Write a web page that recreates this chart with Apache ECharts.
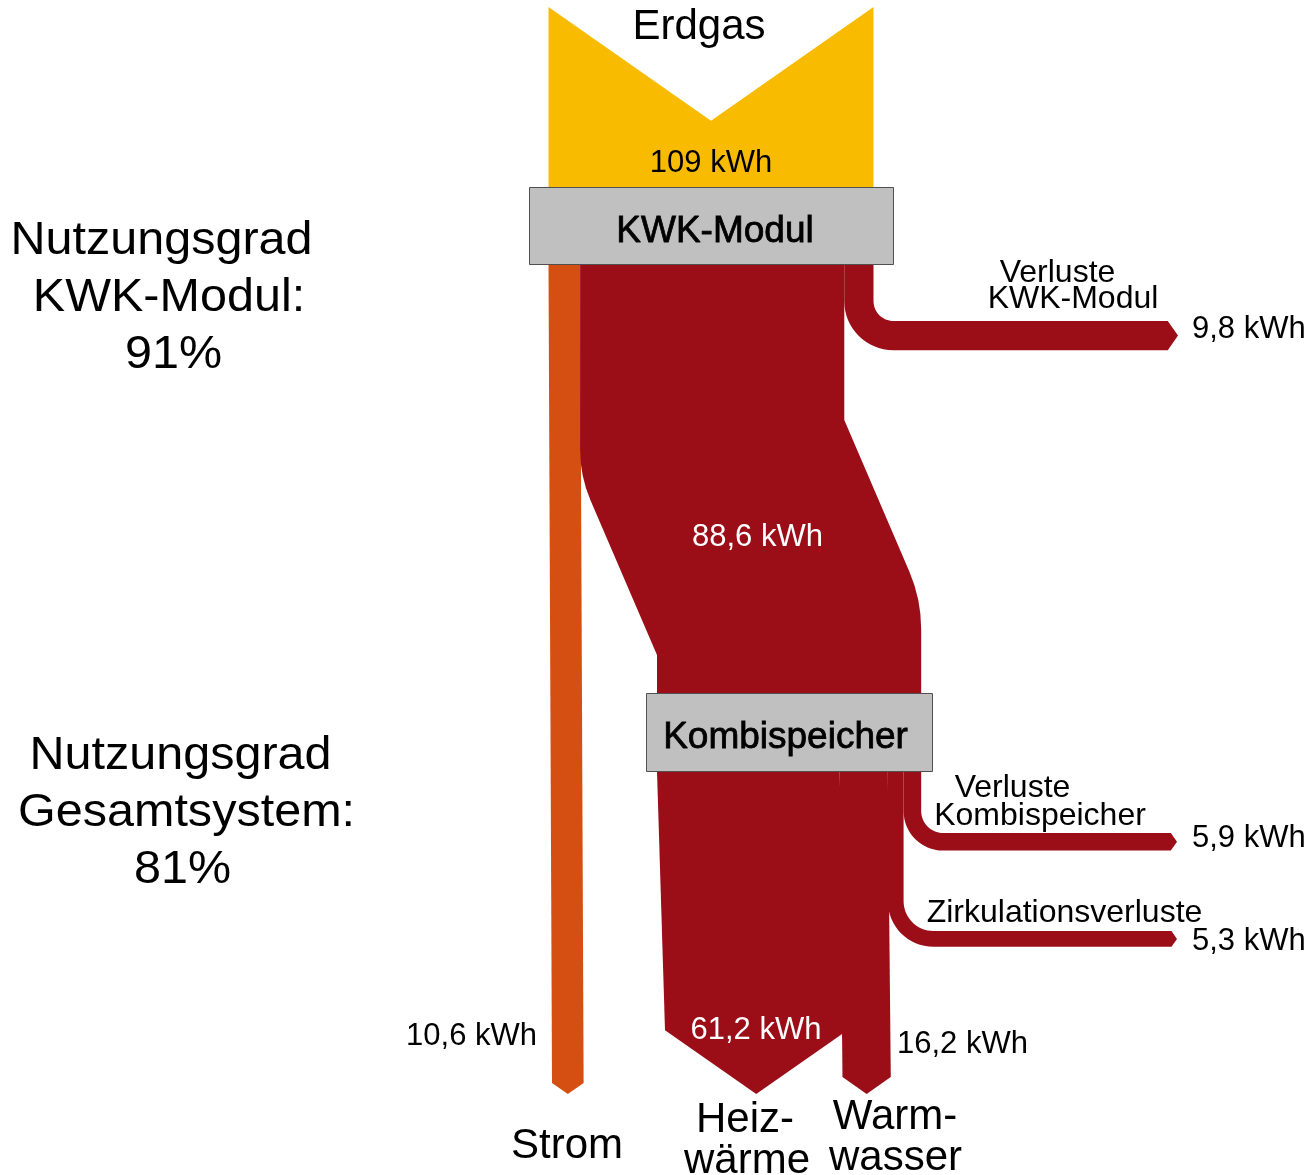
<!DOCTYPE html>
<html>

<head>
    <meta charset="utf-8" />
    <script src="https://cdn.jsdelivr.net/npm/echarts@6/dist/echarts.min.js"></script>
</head>

<body style="margin:0">
    <div id="main" style="width: 1312px; height: 1175px;"></div>
    <script type="text/javascript">
        // Energieflüsse (kWh)
        var flowNames = ['Erdgas', 'Strom', 'Wärme KWK', 'Verluste KWK-Modul', 'Heizwärme', 'Warmwasser', 'Zirkulationsverluste', 'Verluste Kombispeicher'];
        var flowValues = [109, 10.6, 88.6, 9.8, 61.2, 16.2, 5.3, 5.9];
        var flowLabels = ['Erdgas', 'Strom', '', 'Verluste\nKWK-Modul', 'Heiz-\nwärme', 'Warm-\nwasser', 'Zirkulationsverluste', 'Verluste\nKombispeicher'];
        var nodeNames = ['KWK-Modul', 'Kombispeicher'];
        var efficiencyTitles = ['Nutzungsgrad\nKWK-Modul:', 'Nutzungsgrad\nGesamtsystem:'];
        var efficiencyValues = [91, 81];

        var FONT = '"Liberation Sans", Arial, Helvetica, sans-serif';
        var YELLOW = '#f9bb00', RED = '#9b0e18', ORANGE = '#d64f12';
        var flowColors = [YELLOW, ORANGE, RED, RED, RED, RED, RED, RED];

        // Layout (Achsen = Pixel, px pro kWh)
        var K = 325 / 109;
        var ARROW = 0.7;
        var L = {
            gasX: 548.5, gasTop: 7, kwkTop: 187, kwkBottom: 264,
            kombiX: 657, kombiTop: 693, kombiBottom: 771, tipY: 1094,
            main: { leftBend: 476, rightBend: 420, diagDy: 179, rLeft: 26, rRight: 30 }
        };
        var flowShape = [
            { kind: 'source' },
            { kind: 'down', shift: 3.5 },
            { kind: 'main' },
            { kind: 'loss', y: 321, r: 20, tip: 1178 },
            { kind: 'down', shift: 8 },
            { kind: 'down', shift: 3 },
            { kind: 'loss', y: 931, r: 30, tip: 1177 },
            { kind: 'loss', y: 833, r: 22, tip: 1177 }
        ];
        // Wertbeschriftung: x, y, Ausrichtung, Farbe
        var valuePos = [[711, 161, 'center', '#000'], [537, 1034, 'right', '#000'], [757.5, 535, 'center', '#fff'],
            [1192, 327, 'left', '#000'], [756, 1028, 'center', '#fff'], [897, 1042, 'left', '#000'],
            [1192, 939, 'left', '#000'], [1192, 836, 'left', '#000']];
        // Namensbeschriftung je Zeile: [x, y], Schriftgröße
        var namePos = [[[699, 24]], [[567, 1143]], [], [[1057.5, 271], [1073, 297]],
            [[745, 1117], [747, 1158]], [[895, 1114], [895.5, 1155]], [[1064.5, 911]], [[1012.5, 786], [1040, 814]]];
        var nameSize = [42, 42, 32, 32, 42, 42, 32, 32];
        var nodeBoxes = [{ x: 529, y: 187, w: 364, h: 77, tx: 715 }, { x: 646, y: 693, w: 286, h: 78, tx: 785.5 }];
        var effPos = [[[161.5, 238], [169, 295], [173.5, 352]], [[180.5, 753], [186.5, 810], [182.5, 867]]];

        // x-Positionen gestapelt aus den Werten
        var flowX = [];
        flowX[0] = L.gasX;
        flowX[1] = L.gasX;
        flowX[2] = flowX[1] + flowValues[1] * K;
        flowX[3] = flowX[2] + flowValues[2] * K;
        flowX[4] = L.kombiX;
        flowX[5] = flowX[4] + flowValues[4] * K;
        flowX[6] = flowX[5] + flowValues[5] * K;
        flowX[7] = flowX[6] + flowValues[6] * K;

        function fmt(v) {
            return String(v).replace('.', ',') + ' kWh';
        }

        function toPath(cmds, api) {
            return cmds.map(function (c) {
                var out = [c[0]];
                for (var k = 1; k < c.length; k += 2) {
                    var p = api.coord([c[k], c[k + 1]]);
                    out.push(p[0].toFixed(2), p[1].toFixed(2));
                }
                return out.join(' ');
            }).join(' ');
        }

        function text(api, str, x, y, size, align, color, heavy, sx) {
            var p = api.coord([x, y + size * 0.08]);
            var st = {
                text: str, x: 0, y: 0, fill: color || '#000', fontSize: size, fontFamily: FONT,
                align: align || 'center', verticalAlign: 'middle'
            };
            if (heavy) {
                st.stroke = color || '#000';
                st.lineWidth = 0.8;
            }
            return { type: 'text', x: p[0], y: p[1], scaleX: sx || 1, style: st };
        }

        var KAPPA = 0.5523;

        function renderFlow(params, api) {
            var i = params.dataIndex;
            var v = api.value(1);
            var w = v * K;
            var x0 = flowX[i], x1 = x0 + w;
            var s = flowShape[i];
            var d;
            if (s.kind === 'source') {
                var t = L.gasTop, b = L.kwkTop;
                d = [['M', x0, t], ['L', (x0 + x1) / 2, t + ARROW * w / 2], ['L', x1, t], ['L', x1, b], ['L', x0, b], ['Z']];
            } else if (s.kind === 'down') {
                var top = i === 1 ? L.kwkBottom : L.kombiBottom;
                var sh = L.tipY - ARROW * w / 2;
                d = [['M', x0, top], ['L', x1, top], ['L', x1 + s.shift, sh], ['L', (x0 + x1) / 2 + s.shift, L.tipY],
                    ['L', x0 + s.shift, sh], ['Z']];
            } else if (s.kind === 'main') {
                var m = L.main;
                var dx = L.kombiX - x0;
                var len = Math.sqrt(dx * dx + m.diagDy * m.diagDy);
                var ux = dx / len, uy = m.diagDy / len;
                var cRx = x1 + dx, cRy = m.rightBend + m.diagDy;
                d = [['M', x0, L.kwkBottom], ['L', x1, L.kwkBottom], ['L', x1, m.rightBend],
                    ['L', cRx - m.rRight * ux, cRy - m.rRight * uy], ['Q', cRx, cRy, cRx, cRy + m.rRight],
                    ['L', cRx, L.kombiTop], ['L', x0 + dx, L.kombiTop], ['L', x0 + dx, m.leftBend + m.diagDy],
                    ['L', x0 + m.rLeft * ux, m.leftBend + m.rLeft * uy], ['Q', x0, m.leftBend, x0, m.leftBend - m.rLeft], ['Z']];
            } else {
                var top2 = i === 3 ? L.kwkBottom : L.kombiBottom;
                var hy = s.y, r = s.r, ro = r + w;
                var sx = s.tip - ARROW * w / 2;
                d = [['M', x0, top2], ['L', x1, top2], ['L', x1, hy - r],
                    ['C', x1, hy - r + KAPPA * r, x1 + r - KAPPA * r, hy, x1 + r, hy],
                    ['L', sx, hy], ['L', s.tip, hy + w / 2], ['L', sx, hy + w], ['L', x1 + r, hy + w],
                    ['C', x1 + r - KAPPA * ro, hy + w, x0, hy - r + KAPPA * ro, x0, hy - r], ['Z']];
            }
            var children = [{ type: 'path', shape: { pathData: toPath(d, api) }, style: { fill: flowColors[i] } }];
            var vp = valuePos[i];
            children.push(text(api, fmt(v), vp[0], vp[1], 31, vp[2], vp[3]));
            var lines = flowLabels[i] ? flowLabels[i].split('\n') : [];
            lines.forEach(function (ln, k) {
                var np = namePos[i][k];
                children.push(text(api, ln, np[0], np[1], nameSize[i], 'center', '#000'));
            });
            return { type: 'group', children: children };
        }

        function renderNode(params, api) {
            var i = params.dataIndex;
            var b = nodeBoxes[i];
            var p0 = api.coord([b.x, b.y]), p1 = api.coord([b.x + b.w, b.y + b.h]);
            var children = [{
                type: 'rect',
                shape: { x: p0[0] + 0.5, y: p0[1] + 0.5, width: p1[0] - p0[0], height: p1[1] - p0[1] },
                style: { fill: '#c0c0c0', stroke: '#505050', lineWidth: 1 }
            }];
            children.push(text(api, nodeNames[i], b.tx, b.y + b.h / 2 + 3, 37, 'center', '#000', true));
            var lines = efficiencyTitles[i].split('\n').concat([efficiencyValues[i] + '%']);
            lines.forEach(function (ln, k) {
                var ep = effPos[i][k];
                children.push(text(api, ln, ep[0], ep[1], 46, 'center', '#000', false, 1.055));
            });
            return { type: 'group', children: children };
        }

        var myChart = echarts.init(document.getElementById('main'));
        var option = {
            backgroundColor: '#fff',
            animation: false,
            grid: { left: 0, right: 0, top: 0, bottom: 0 },
            xAxis: { type: 'value', min: 0, max: 1312, show: false },
            yAxis: { type: 'value', min: 0, max: 1175, inverse: true, show: false },
            series: [
                {
                    type: 'custom',
                    name: 'Flüsse',
                    renderItem: renderFlow,
                    data: flowValues.map(function (v, i) { return { name: flowNames[i], value: [i, v] }; })
                },
                {
                    type: 'custom',
                    name: 'Knoten',
                    renderItem: renderNode,
                    data: nodeNames.map(function (n, i) { return { name: n, value: [i, efficiencyValues[i]] }; })
                }
            ]
        };
        myChart.setOption(option);
    </script>
</body>

</html>
